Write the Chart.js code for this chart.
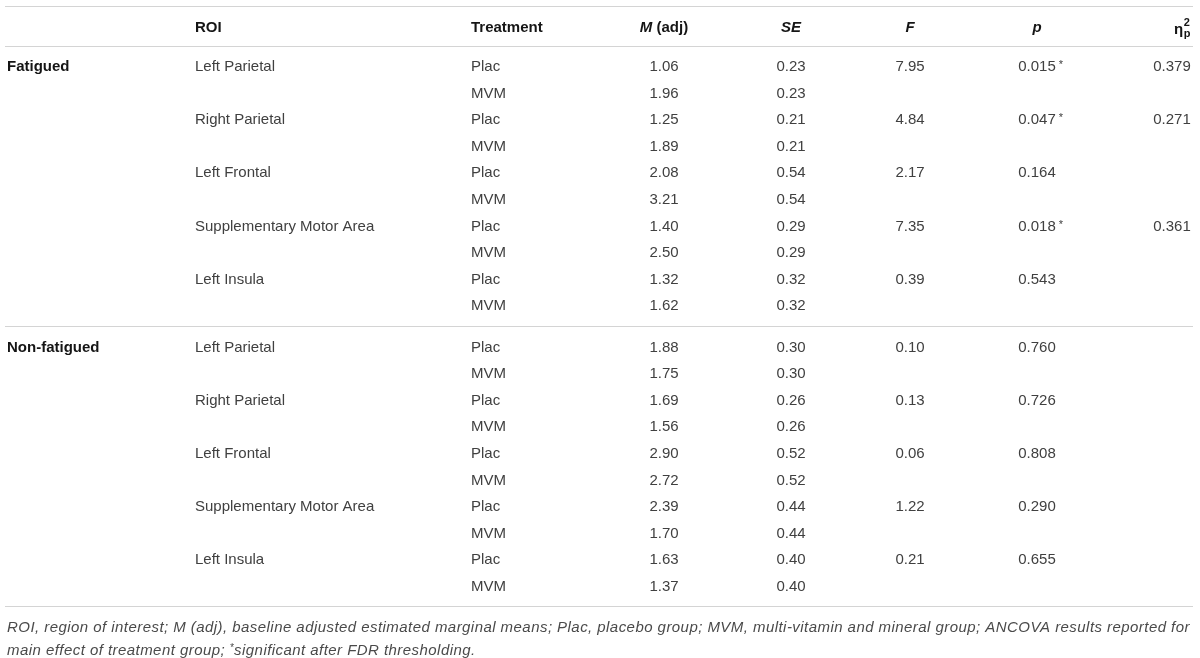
<!DOCTYPE html>
<html>
<head>
<meta charset="utf-8">
<script src="https://cdn.jsdelivr.net/npm/chart.js@4.4.1/dist/chart.umd.min.js"></script>
<style>
  html, body { margin: 0; padding: 0; background: #fff; }
  #wrap { width: 1200px; height: 658px; position: relative; }
</style>
</head>
<body>
<div id="wrap"><canvas id="tbl"></canvas></div>
<script>
// table values, one entry per printed row / per ROI block
const groups = ['Fatigued', 'Non-fatigued'];
const rois = ['Left Parietal', 'Right Parietal', 'Left Frontal', 'Supplementary Motor Area', 'Left Insula'];
const treatments = ['Plac', 'MVM'];
const meanAdj = [1.06, 1.96, 1.25, 1.89, 2.08, 3.21, 1.40, 2.50, 1.32, 1.62,
                 1.88, 1.75, 1.69, 1.56, 2.90, 2.72, 2.39, 1.70, 1.63, 1.37];
const stdErr = [0.23, 0.23, 0.21, 0.21, 0.54, 0.54, 0.29, 0.29, 0.32, 0.32,
                0.30, 0.30, 0.26, 0.26, 0.52, 0.52, 0.44, 0.44, 0.40, 0.40];
const fStat = [7.95, 4.84, 2.17, 7.35, 0.39, 0.10, 0.13, 0.06, 1.22, 0.21];
const pVal = [0.015, 0.047, 0.164, 0.018, 0.543, 0.760, 0.726, 0.808, 0.290, 0.655];
const significant = [true, true, false, true, false, false, false, false, false, false];
const etaSq = [0.379, 0.271, null, 0.361, null, null, null, null, null, null];
const footnote = [
  'ROI, region of interest; M (adj), baseline adjusted estimated marginal means; Plac, placebo group; MVM, multi-vitamin and mineral group; ANCOVA results reported for',
  'main effect of treatment group; |*|significant after FDR thresholding.'
];

// layout: column anchors on the x scale, row positions on the y scale
const cols = [
  { x: 7, align: 'left' }, { x: 195, align: 'left' }, { x: 471, align: 'left' },
  { x: 664, align: 'center' }, { x: 791, align: 'center' }, { x: 910, align: 'center' },
  { x: 1037, align: 'center' }, { x: 1172, align: 'center' }
];
const rowY = i => i + 1.5 + (i >= 10 ? 0.55 : 0);
const rules = [-0.79, 0.714, 11.24, 21.77];
const noteY = [22.57, 23.45];
const noteWidth = 1183;

const FONT = '"Liberation Sans", Arial, sans-serif';
const BODY = '15px ' + FONT;
const BOLD = 'bold 15px ' + FONT;
const TEXT = '#404040';
const HEAD = '#151515';

function cell(ci, i, t, extra) {
  return Object.assign({ x: cols[ci].x, y: rowY(i), t: t, ci: ci }, extra || {});
}

const groupData = groups.map((g, k) => cell(0, k * 10, g));
const roiData = [], trtData = [], mData = [], seData = [], fData = [], pData = [], eData = [];
for (let i = 0; i < meanAdj.length; i++) {
  const block = Math.floor(i / 2);
  trtData.push(cell(2, i, treatments[i % 2]));
  mData.push(cell(3, i, meanAdj[i].toFixed(2)));
  seData.push(cell(4, i, stdErr[i].toFixed(2)));
  if (i % 2 === 0) {
    roiData.push(cell(1, i, rois[block % rois.length]));
    fData.push(cell(5, i, fStat[block].toFixed(2)));
    pData.push(cell(6, i, pVal[block].toFixed(3), { star: significant[block] }));
    if (etaSq[block] !== null) eData.push(cell(7, i, etaSq[block].toFixed(3)));
  }
}

function ds(data, font) {
  return { data: data, font: font, pointRadius: 0, pointHoverRadius: 0 };
}

// text runs [{t, font, dy}] drawn one after another
function runsWidth(ctx, runs) {
  return runs.reduce((w, r) => { ctx.font = r.font; return w + ctx.measureText(r.t).width; }, 0);
}
function drawRuns(ctx, runs, x, y, align, color) {
  let cx = align === 'center' ? x - runsWidth(ctx, runs) / 2 : x;
  ctx.textAlign = 'left';
  ctx.fillStyle = color;
  runs.forEach(r => {
    ctx.font = r.font;
    ctx.fillText(r.t, cx, y + (r.dy || 0));
    cx += ctx.measureText(r.t).width;
  });
}

const tablePlugin = {
  id: 'tablePlugin',
  afterDatasetsDraw(chart) {
    const ctx = chart.ctx;
    const xs = chart.scales.x, ys = chart.scales.y;
    ctx.save();
    ctx.textBaseline = 'middle';

    // horizontal rules
    ctx.strokeStyle = '#d4d4d4';
    ctx.lineWidth = 1.2;
    rules.forEach(v => {
      const py = Math.round(ys.getPixelForValue(v)) + 0.5;
      ctx.beginPath();
      ctx.moveTo(xs.getPixelForValue(5), py);
      ctx.lineTo(xs.getPixelForValue(1193), py);
      ctx.stroke();
    });

    // header row
    const hy = ys.getPixelForValue(0) + 1;
    const bi = 'italic bold 15px ' + FONT;
    const heads = [
      null,
      [{ t: 'ROI', font: BOLD }],
      [{ t: 'Treatment', font: BOLD }],
      [{ t: 'M', font: bi }, { t: ' (adj)', font: BOLD }],
      [{ t: 'SE', font: bi }],
      [{ t: 'F', font: bi }],
      [{ t: 'p', font: bi }]
    ];
    heads.forEach((runs, c) => {
      if (runs) drawRuns(ctx, runs, xs.getPixelForValue(cols[c].x), hy, cols[c].align, HEAD);
    });
    // partial eta squared
    ctx.font = BOLD;
    const etaW = ctx.measureText('\u03b7').width;
    const ex = xs.getPixelForValue(1174);
    ctx.fillStyle = HEAD;
    ctx.textAlign = 'left';
    ctx.fillText('\u03b7', ex, hy + 2);
    ctx.font = 'bold 11px ' + FONT;
    ctx.fillText('2', ex + etaW + 0.5, hy - 5);
    ctx.fillText('p', ex + etaW + 0.5, hy + 6);

    // body cells at the dataset points
    chart.data.datasets.forEach((d, di) => {
      const meta = chart.getDatasetMeta(di);
      meta.data.forEach((pt, j) => {
        const c = d.data[j];
        const color = d.font === BOLD ? HEAD : TEXT;
        if (c.star) {
          // number centred, asterisk hangs to the right
          ctx.font = d.font;
          const w = ctx.measureText(c.t).width;
          drawRuns(ctx, [{ t: c.t, font: d.font }, { t: ' *', font: '11px ' + FONT, dy: -2 }],
            pt.x - w / 2, pt.y, 'left', color);
        } else {
          drawRuns(ctx, [{ t: c.t, font: d.font }], pt.x, pt.y, cols[c.ci].align, color);
        }
      });
    });

    // footnote: 15px italic, slight letter spacing so line one spans the table
    const it = 'italic 15px ' + FONT;
    const small = 'italic 10px ' + FONT;
    ctx.font = it;
    const natural = ctx.measureText(footnote[0]).width;
    ctx.letterSpacing = Math.max(0, (noteWidth - natural) / footnote[0].length).toFixed(3) + 'px';
    footnote.forEach((line, k) => {
      const runs = line.split('|').filter(p => p).map(p =>
        p === '*' ? { t: p, font: small, dy: -3 } : { t: p, font: it });
      drawRuns(ctx, runs, xs.getPixelForValue(7), ys.getPixelForValue(noteY[k]), 'left', '#4a4a4a');
    });
    ctx.restore();
  }
};

new Chart(document.getElementById('tbl'), {
  type: 'scatter',
  data: {
    datasets: [
      ds(groupData, BOLD), ds(roiData, BODY), ds(trtData, BODY), ds(mData, BODY),
      ds(seData, BODY), ds(fData, BODY), ds(pData, BODY), ds(eData, BODY)
    ]
  },
  options: {
    responsive: true,
    maintainAspectRatio: false,
    animation: false,
    events: [],
    layout: { padding: 0 },
    plugins: { legend: { display: false }, tooltip: { enabled: false } },
    scales: {
      x: { type: 'linear', min: 0, max: 1200, display: false },
      y: { type: 'linear', min: -27 / 26.6, max: 631 / 26.6, reverse: true, display: false }
    }
  },
  plugins: [tablePlugin]
});
</script>
</body>
</html>
